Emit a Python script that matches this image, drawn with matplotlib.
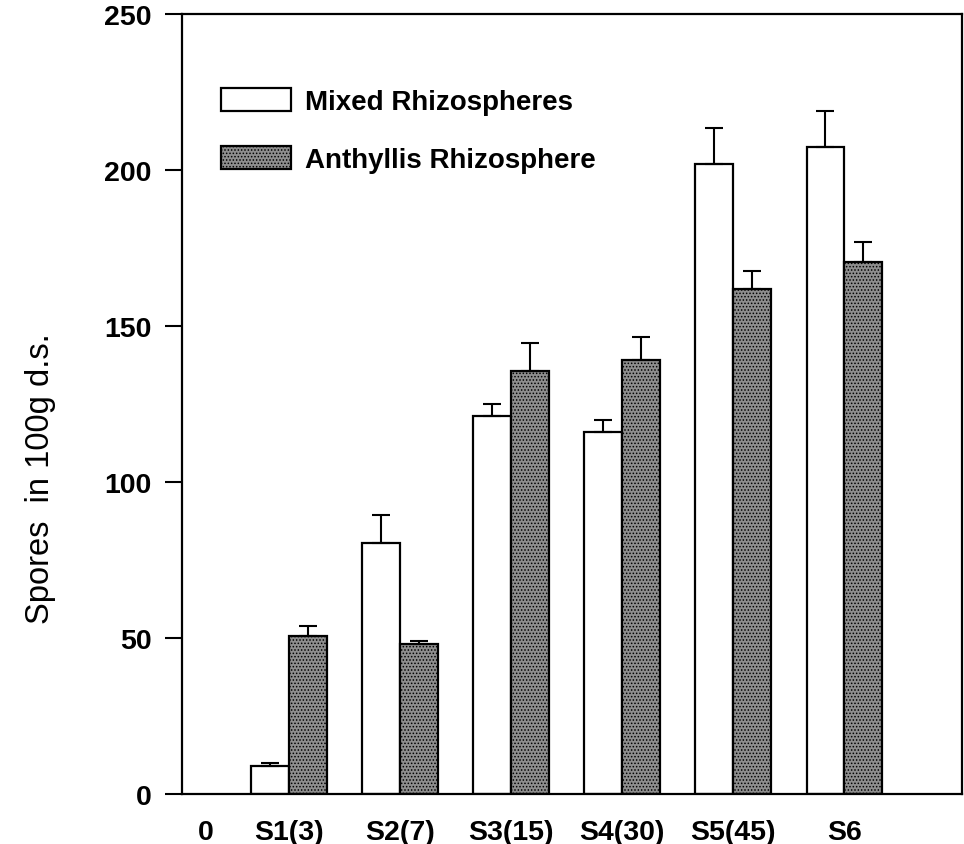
import matplotlib
matplotlib.use('Agg')
import matplotlib.pyplot as plt
import numpy as np

# Spore counts (per 100 g dry soil)
categories = ['0', 'S1(3)', 'S2(7)', 'S3(15)', 'S4(30)', 'S5(45)', 'S6']
mixed = [9, 80.5, 121, 116, 202, 207.5]
mixed_err = [1, 9, 4, 4, 11.5, 11.5]
anthyllis = [50.5, 48, 135.5, 139, 162, 170.5]
anthyllis_err = [3.5, 1, 9, 7.5, 5.5, 6.5]

plt.rcParams['font.family'] = ['Liberation Sans', 'DejaVu Sans']
plt.rcParams['hatch.linewidth'] = 0.7

fig = plt.figure(figsize=(9.64, 8.45), dpi=100)
ax = fig.add_axes([0.189, 0.0592, 0.809, 0.923])

x = np.arange(1, len(mixed) + 1)
w = 0.34
err_kw = dict(elinewidth=1.5, capsize=6.5, capthick=1.5, ecolor='black')

ax.bar(x - w / 2, mixed, w, yerr=[np.zeros(len(mixed)), mixed_err],
       color='white', edgecolor='black', linewidth=1.6,
       error_kw=err_kw, label='Mixed Rhizospheres', zorder=2)
ax.bar(x + w / 2, anthyllis, w, yerr=[np.zeros(len(anthyllis)), anthyllis_err],
       color='#8e8e8e', edgecolor='black', linewidth=1.6, hatch='.....',
       error_kw=err_kw, label='Anthyllis Rhizosphere', zorder=2)

ax.set_xlim(0.04, 7.06)
ax.set_ylim(0, 250)
ax.set_yticks(np.arange(0, 251, 50))
ax.set_xticks([0.25] + list(x))
ax.set_xticklabels(categories)

ax.tick_params(axis='y', direction='out', length=12, width=1.5, pad=10,
               labelsize=20.5)
ax.tick_params(axis='x', length=0, pad=18, labelsize=20.5)
for lab in ax.get_xticklabels() + ax.get_yticklabels():
    lab.set_fontweight('bold')

for sp in ax.spines.values():
    sp.set_linewidth(1.6)

ax.set_ylabel('Spores  in 100g d.s.', fontsize=23.5)
ax.yaxis.set_label_coords(-0.162, 0.405)

ax.legend(loc='upper left', bbox_to_anchor=(0.05, 0.905), frameon=False,
          borderpad=0, borderaxespad=0, handlelength=2.5, handleheight=0.9,
          handletextpad=0.5, labelspacing=1.1,
          prop={'size': 20, 'weight': 'bold'})

fig.savefig('out.png', dpi=100)
